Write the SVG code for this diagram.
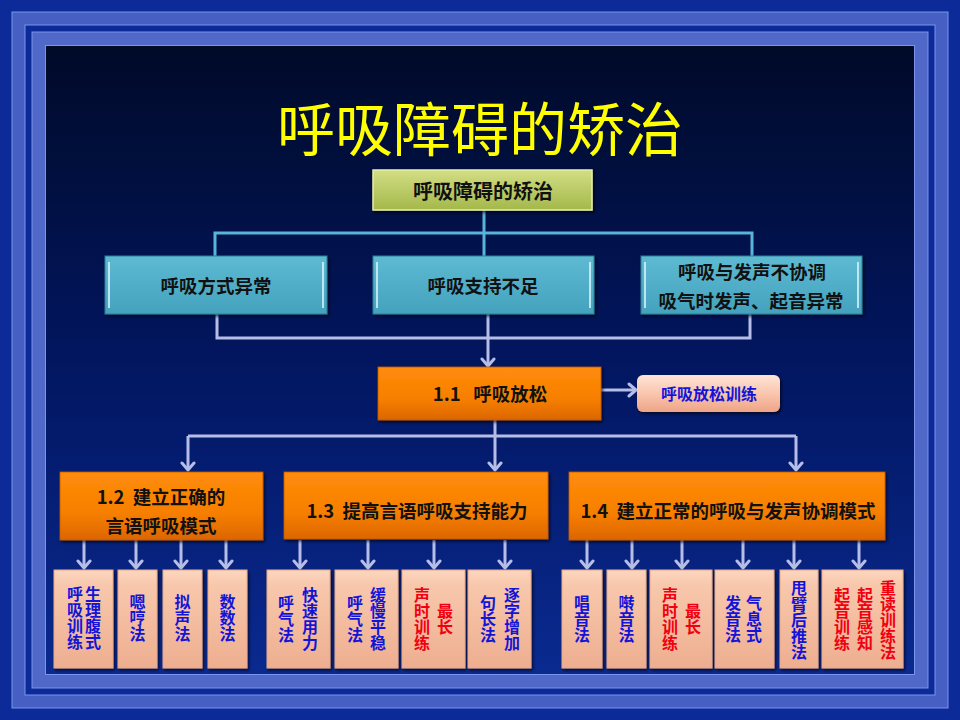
<svg xmlns="http://www.w3.org/2000/svg" width="960" height="720" viewBox="0 0 960 720">
<defs>
<linearGradient id="gInner" x1="0" y1="0" x2="0" y2="1">
<stop offset="0" stop-color="#000A28"/>
<stop offset="0.5" stop-color="#021660"/>
<stop offset="1" stop-color="#0A2A90"/>
</linearGradient>
<linearGradient id="gTop" x1="0" y1="0" x2="0" y2="1">
<stop offset="0" stop-color="#D2DE84"/>
<stop offset="1" stop-color="#A4B84A"/>
</linearGradient>
<linearGradient id="gTeal" x1="0" y1="0" x2="0" y2="1">
<stop offset="0" stop-color="#5EBAD2"/>
<stop offset="1" stop-color="#44A2BE"/>
</linearGradient>
<linearGradient id="gOrange" x1="0" y1="0" x2="0" y2="1">
<stop offset="0" stop-color="#FF8C0A"/>
<stop offset="0.6" stop-color="#F77F00"/>
<stop offset="1" stop-color="#DC6600"/>
</linearGradient>
<linearGradient id="gPeach" x1="0" y1="0" x2="0" y2="1">
<stop offset="0" stop-color="#FCD6C0"/>
<stop offset="0.15" stop-color="#F8C8AC"/>
<stop offset="1" stop-color="#EEAE90"/>
</linearGradient>
<linearGradient id="gPink" x1="0" y1="0" x2="0" y2="1">
<stop offset="0" stop-color="#FEE4D6"/>
<stop offset="0.5" stop-color="#F9C6AE"/>
<stop offset="1" stop-color="#EFA486"/>
</linearGradient>
<filter id="sh" x="-10%" y="-10%" width="130%" height="140%">
<feDropShadow dx="1.5" dy="2" stdDeviation="1.5" flood-color="#000010" flood-opacity="0.7"/>
</filter>
<marker id="arr" markerUnits="userSpaceOnUse" markerWidth="16" markerHeight="16" refX="9" refY="8" orient="auto">
<path d="M2,2 L9,8 L2,14" fill="none" stroke="#B6BEE8" stroke-width="3" stroke-linecap="round" stroke-linejoin="round"/>
</marker>
<style>
.lbl{font-family:"Noto Sans CJK SC","Liberation Sans",sans-serif;font-weight:bold;font-size:18.5px;fill:#111;text-anchor:middle;dominant-baseline:central}
.vt{font-family:"Noto Sans CJK SC","Liberation Sans",sans-serif;font-weight:bold;font-size:16px;text-anchor:middle;writing-mode:vertical-rl}
.blue{fill:#1414D8}
.red{fill:#F00010}
.cy{fill:none;stroke:#58B4DA;stroke-width:3}
.lv{fill:none;stroke:#B6BEE8;stroke-width:3}
.la{fill:none;stroke:#B6BEE8;stroke-width:3;marker-end:url(#arr)}
.peach{fill:url(#gPeach);stroke:#E8A888;stroke-width:1}
.teal{fill:url(#gTeal);stroke:#2C7E98;stroke-width:1}
.org{fill:url(#gOrange);stroke:#C05A00;stroke-width:0.8}
.bev{fill:none;stroke:#D8F4FC;stroke-width:2;opacity:0.8}
</style>
</defs>

<!-- background and frame -->
<rect x="0" y="0" width="960" height="720" fill="#0C2A98"/>
<rect x="12" y="12" width="936" height="696" fill="#4560C2" stroke="#7C94EE" stroke-width="1"/>
<rect x="25" y="25" width="910" height="670" fill="#0C2A98" stroke="#7C94EE" stroke-width="1"/>
<rect x="32" y="32" width="896" height="656" fill="#5068C8" stroke="#7C94EE" stroke-width="1"/>
<rect x="45.5" y="45.5" width="869" height="629" fill="url(#gInner)" stroke="#7C94EE" stroke-width="1"/>

<text x="480" y="126" font-family="Noto Sans CJK SC, Liberation Sans, sans-serif" font-size="58" fill="#FFFF00" text-anchor="middle" dominant-baseline="central">呼吸障碍的矫治</text>

<!-- connectors -->
<g id="connectors">
<path class="cy" d="M484,210 V256 M215,256 V233 H752 V256"/>
<path class="lv" d="M217,314 V338 H750 V314"/>
<path class="la" d="M488,314 V366"/>
<path class="la" d="M601,390 H636"/>
<path class="lv" d="M495,420 V436 M188,436 H796"/>
<path class="la" d="M188,436 V470"/>
<path class="la" d="M495,436 V470"/>
<path class="la" d="M796,436 V470"/>
<path class="la" d="M84,540 V568"/>
<path class="la" d="M136,540 V568"/>
<path class="la" d="M181,540 V568"/>
<path class="la" d="M226,540 V568"/>
<path class="la" d="M300,540 V568"/>
<path class="la" d="M368,540 V568"/>
<path class="la" d="M434,540 V568"/>
<path class="la" d="M505,540 V568"/>
<path class="la" d="M587,540 V568"/>
<path class="la" d="M632,540 V568"/>
<path class="la" d="M682,540 V568"/>
<path class="la" d="M743,540 V568"/>
<path class="la" d="M794,540 V568"/>
<path class="la" d="M859,540 V568"/>
</g>

<g id="root">
<rect x="373" y="170" width="219" height="40" fill="url(#gTop)" stroke="#E6EEA8" stroke-width="1.5" filter="url(#sh)"/>
<text class="lbl" x="483" y="190" style="font-size:20px">呼吸障碍的矫治</text>
</g>

<g id="n-fangshi">
<rect class="teal" x="105" y="256" width="222" height="58" filter="url(#sh)"/>
<path class="bev" d="M109,262 V308 M323,262 V308"/>
<text class="lbl" x="216" y="285">呼吸方式异常</text>
</g>
<g id="n-zhichi">
<rect class="teal" x="373" y="256" width="221" height="58" filter="url(#sh)"/>
<path class="bev" d="M377,262 V308 M590,262 V308"/>
<text class="lbl" x="483" y="285">呼吸支持不足</text>
</g>
<g id="n-xietiao">
<rect class="teal" x="641" y="256" width="221" height="58" filter="url(#sh)"/>
<path class="bev" d="M645,262 V308 M858,262 V308"/>
<text class="lbl" x="752" y="271">呼吸与发声不协调</text>
<text class="lbl" x="751" y="300">吸气时发声、起音异常</text>
</g>

<g id="n11">
<rect class="org" x="378" y="367" width="223" height="53" filter="url(#sh)"/>
<text class="lbl" x="490" y="393">1.1&#160;&#160;&#160;呼吸放松</text>
</g>
<g id="n-fangsong">
<rect x="637" y="375" width="143" height="37" rx="6" fill="url(#gPink)" filter="url(#sh)"/>
<text class="lbl blue" x="709" y="393" style="font-size:16px">呼吸放松训练</text>
</g>

<g id="n12">
<rect class="org" x="60" y="472" width="203" height="68" filter="url(#sh)"/>
<text class="lbl" x="161" y="496">1.2&#160;&#160;建立正确的</text>
<text class="lbl" x="161" y="525">言语呼吸模式</text>
</g>
<g id="n13">
<rect class="org" x="284" y="472" width="264" height="67" filter="url(#sh)"/>
<text class="lbl" x="417" y="510">1.3&#160;&#160;提高言语呼吸支持能力</text>
</g>
<g id="n14">
<rect class="org" x="569" y="472" width="316" height="68" filter="url(#sh)"/>
<text class="lbl" x="728" y="510">1.4&#160;&#160;建立正常的呼吸与发声协调模式</text>
</g>

<!-- bottom row -->
<g id="b1"><rect class="peach" x="54" y="570" width="59" height="98" filter="url(#sh)"/>
<text class="vt blue" x="93" y="618">生理腹式</text><text class="vt blue" x="75" y="618">呼吸训练</text></g>
<g id="b2"><rect class="peach" x="118" y="570" width="39" height="98" filter="url(#sh)"/>
<text class="vt blue" x="137.5" y="618">嗯哼法</text></g>
<g id="b3"><rect class="peach" x="163" y="570" width="39" height="98" filter="url(#sh)"/>
<text class="vt blue" x="182.5" y="618">拟声法</text></g>
<g id="b4"><rect class="peach" x="208" y="570" width="39" height="98" filter="url(#sh)"/>
<text class="vt blue" x="227.5" y="618">数数法</text></g>

<g id="c1"><rect class="peach" x="267" y="570" width="63" height="98" filter="url(#sh)"/>
<text class="vt blue" x="310" y="619">快速用力</text><text class="vt blue" x="286" y="619">呼气法</text></g>
<g id="c2"><rect class="peach" x="335" y="570" width="63" height="98" filter="url(#sh)"/>
<text class="vt blue" x="378" y="619">缓慢平稳</text><text class="vt blue" x="355" y="619">呼气法</text></g>
<g id="c3"><rect class="peach" x="402" y="570" width="63" height="98" filter="url(#sh)"/>
<text class="vt red" x="445" y="619">最长</text><text class="vt red" x="422" y="619">声时训练</text></g>
<g id="c4"><rect class="peach" x="468" y="570" width="63" height="98" filter="url(#sh)"/>
<text class="vt blue" x="512" y="619">逐字增加</text><text class="vt blue" x="488" y="619">句长法</text></g>

<g id="d1"><rect class="peach" x="562" y="570" width="40" height="98" filter="url(#sh)"/>
<text class="vt blue" x="582" y="619">唱音法</text></g>
<g id="d2"><rect class="peach" x="607" y="570" width="39" height="98" filter="url(#sh)"/>
<text class="vt blue" x="626.5" y="619">啭音法</text></g>
<g id="d3"><rect class="peach" x="650" y="570" width="62" height="98" filter="url(#sh)"/>
<text class="vt red" x="693" y="619">最长</text><text class="vt red" x="670" y="619">声时训练</text></g>
<g id="d4"><rect class="peach" x="715" y="570" width="59" height="98" filter="url(#sh)"/>
<text class="vt blue" x="754" y="619">气息式</text><text class="vt blue" x="733" y="619">发音法</text></g>
<g id="d5"><rect class="peach" x="780" y="570" width="38" height="98" filter="url(#sh)"/>
<text class="vt blue" x="799" y="620">甩臂后推法</text></g>
<g id="d6"><rect class="peach" x="822" y="570" width="81" height="98" filter="url(#sh)"/>
<text class="vt red" x="888" y="620">重读训练法</text><text class="vt red" x="865" y="619">起音感知</text><text class="vt red" x="842" y="619">起音训练</text></g>
</svg>
